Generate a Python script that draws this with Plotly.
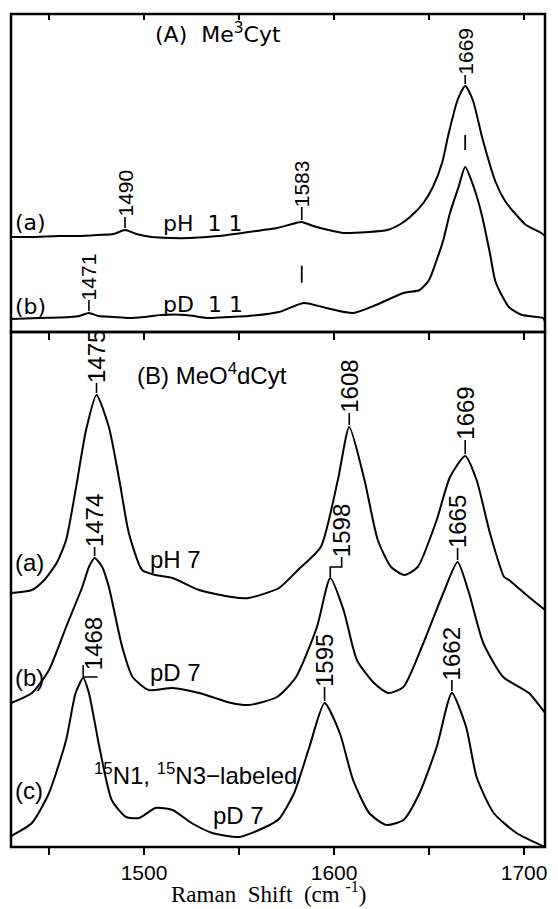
import numpy as np
import plotly.graph_objects as go

# ---------------- data (wavenumber, relative intensity) ----------------
# Panel A: Me3Cyt
top_a_x = [1430, 1441, 1455, 1466, 1476, 1484, 1490, 1496, 1504, 1514, 1524, 1539, 1555, 1570,
           1578, 1583, 1589, 1597, 1605, 1618, 1628, 1635, 1640, 1647, 1652, 1657, 1660, 1665,
           1669, 1673, 1678, 1685, 1690, 1695, 1701, 1709, 1711]
top_a_y = [95, 95, 96, 96, 97, 98, 102, 98, 95, 94, 94, 96, 100, 104,
           108, 110, 106, 102, 99, 100, 102, 108, 115, 129, 145, 170, 196, 232,
           246, 232, 194, 150, 131, 119, 107, 99, 96]

top_b_x = [1430, 1445, 1461, 1466, 1471, 1476, 1484, 1492, 1500, 1509, 1522, 1534, 1545, 1555,
           1571, 1584, 1596, 1610, 1622, 1636.5, 1645, 1650, 1654, 1657.5, 1661, 1665.5, 1669,
           1673.5, 1677.5, 1682, 1685, 1692, 1699, 1710, 1711]
top_b_y = [13, 14, 15, 16, 19, 16, 15, 14, 15, 17, 17, 14, 15, 16,
           20, 29, 24, 19, 27, 39, 42, 52, 72, 92, 119, 145, 165,
           145, 119, 79, 50, 25, 17, 14, 10]

# Panel B: MeO4dCyt
bot_a_x = [1430, 1441, 1447.5, 1454, 1459, 1464, 1469.5, 1475, 1481.5, 1487, 1492, 1499, 1506,
           1515, 1529, 1546, 1555, 1571, 1581, 1593, 1602, 1608, 1616, 1623, 1630, 1637, 1644,
           1654, 1661, 1669, 1675, 1682, 1689.5, 1692, 1702.5, 1711]
bot_a_y = [254, 257, 267, 284, 307, 357, 417, 452, 420, 367, 314, 277, 272,
           269, 257, 250, 249, 259, 277, 300, 367, 420, 367, 307, 280, 272, 280,
           327, 370, 391, 367, 314, 270, 267, 250, 237]

bot_b_x = [1430, 1441, 1450, 1459, 1467.5, 1471, 1474, 1478, 1481.5, 1488.5, 1494, 1502.5, 1515,
           1529, 1546, 1555, 1570, 1580, 1591, 1598, 1605, 1612, 1621, 1628.5, 1636.5, 1647,
           1657.5, 1665, 1671, 1678.5, 1689, 1702.5, 1711]
bot_b_y = [144, 154, 177, 220, 260, 280, 289, 280, 260, 200, 170, 157, 159,
           154, 144, 142, 150, 170, 220, 269, 237, 187, 164, 154, 160, 204,
           254, 285, 254, 204, 170, 154, 134]

bot_c_x = [1430, 1441, 1450, 1459, 1464, 1468, 1471, 1476.5, 1483, 1490.5, 1497.5, 1506, 1515,
           1525, 1536, 1550, 1564, 1571, 1579, 1587, 1595, 1603, 1610, 1618.5, 1627.5, 1636.5,
           1645, 1654, 1662, 1669.5, 1675, 1684, 1696, 1711]
bot_c_y = [11, 24, 54, 107, 154, 169, 154, 100, 47, 30, 29, 39, 37,
           24, 14, 10, 20, 28, 54, 100, 144, 114, 67, 34, 22, 27,
           54, 100, 154, 120, 70, 34, 14, 0]

x_ticks = [1450, 1500, 1550, 1600, 1650, 1700]
x_ticktext = [" ", "1500", " ", "1600", " ", "1700"]
x_range = [1430, 1711]
top_range = [0, 318]
bot_range = [0, 515]

# ---------------- figure ----------------
W, H = 558, 909
ML, MR, MT, MB = 11, 11, 14, 62
split = 515 / 833.0

SANS = "Liberation Sans, Arial, Helvetica, sans-serif"
WIDE = "DejaVu Sans, Verdana, sans-serif"
SERIF = "Liberation Serif, Times New Roman, serif"

fig = go.Figure()
ln = dict(color="black", width=2, shape="spline", smoothing=0.6)
for xs, ys, xa, ya in [(top_a_x, top_a_y, "x2", "y2"), (top_b_x, top_b_y, "x2", "y2"),
                       (bot_a_x, bot_a_y, "x", "y"), (bot_b_x, bot_b_y, "x", "y"),
                       (bot_c_x, bot_c_y, "x", "y")]:
    fig.add_trace(go.Scatter(x=xs, y=ys, xaxis=xa, yaxis=ya, mode="lines", line=ln,
                             hoverinfo="skip", showlegend=False))
# empty trace so the inner top tick axis of panel B is drawn
fig.add_trace(go.Scatter(x=[], y=[], xaxis="x3", yaxis="y", showlegend=False))

shapes = []
annotations = []


def txt(text, x, y, xa, ya, size, family=SANS, xanchor="center", yanchor="middle"):
    annotations.append(dict(text=text, x=x, y=y, xref=xa, yref=ya, showarrow=False,
                            xanchor=xanchor, yanchor=yanchor,
                            font=dict(family=family, size=size, color="black")))


def peak_label(text, pk, xs, ys, xa, ya, gap, size, dx=0.0, tick=True):
    pv = float(np.interp(pk, xs, ys))
    if tick:
        shapes.append(dict(type="line", xref=xa, yref=ya, x0=pk, x1=pk, ysizemode="pixel",
                           yanchor=pv, y0=2, y1=gap, line=dict(color="black", width=1.6)))
    annotations.append(dict(text=text, x=pk + dx, y=pv, xref=xa, yref=ya, showarrow=False,
                            textangle=-90, xanchor="center", yanchor="bottom", yshift=gap - 1,
                            borderpad=0,
                            font=dict(family=SANS, size=size, color="black")))
    return pv


def marker(pk, xs, ys, xa, ya, a, b):
    pv = float(np.interp(pk, xs, ys))
    shapes.append(dict(type="line", xref=xa, yref=ya, x0=pk, x1=pk, ysizemode="pixel",
                       yanchor=pv, y0=a, y1=b, line=dict(color="black", width=1.8)))


# Panel A texts
txt("(A)  Me<sup>3</sup>Cyt", 1539, 299, "x2", "y2", 22, WIDE)
txt("(a)", 1431, 110, "x2", "y2", 22, WIDE, xanchor="left")
txt("pH  1 1", 1531, 109, "x2", "y2", 22, WIDE)
txt("(b)", 1431, 26, "x2", "y2", 22, WIDE, xanchor="left")
txt("pD  1 1", 1531, 28, "x2", "y2", 22, WIDE)
peak_label("1490", 1490, top_a_x, top_a_y, "x2", "y2", 13, 21)
peak_label("1583", 1583, top_a_x, top_a_y, "x2", "y2", 15, 21)
peak_label("1669", 1669, top_a_x, top_a_y, "x2", "y2", 11, 21)
peak_label("1471", 1471, top_b_x, top_b_y, "x2", "y2", 13, 21)
marker(1583, top_b_x, top_b_y, "x2", "y2", 21, 38)
marker(1669, top_b_x, top_b_y, "x2", "y2", 17, 32)

# Panel B texts
txt("(B) MeO<sup>4</sup>dCyt", 1535.7, 473, "x", "y", 24)
txt("(a)", 1431, 285, "x", "y", 24, xanchor="left")
txt("pH 7", 1516.3, 288, "x", "y", 24)
txt("(b)", 1431, 170, "x", "y", 24, xanchor="left")
txt("pD 7", 1516.3, 175, "x", "y", 24)
txt("(c)", 1431, 57, "x", "y", 24, xanchor="left")
txt("<sup>15</sup>N1, <sup>15</sup>N3\u2212labeled", 1527.3, 73, "x", "y", 24)
txt("pD 7", 1549.9, 32, "x", "y", 24)

peak_label("1475", 1475, bot_a_x, bot_a_y, "x", "y", 12, 24)
peak_label("1608", 1608, bot_a_x, bot_a_y, "x", "y", 14, 24)
peak_label("1669", 1669, bot_a_x, bot_a_y, "x", "y", 16, 24)
peak_label("1474", 1474, bot_b_x, bot_b_y, "x", "y", 11, 24)
peak_label("1665", 1665, bot_b_x, bot_b_y, "x", "y", 14, 24)
peak_label("1595", 1595, bot_c_x, bot_c_y, "x", "y", 16, 24)
peak_label("1662", 1662, bot_c_x, bot_c_y, "x", "y", 13, 24)

# bent connectors (1598 and 1468)
pv = peak_label("1598", 1598, bot_b_x, bot_b_y, "x", "y", 21, 24, dx=6.0, tick=False)
fig.add_trace(go.Scatter(x=[1598, 1598, 1604, 1604], y=[pv + 1, pv + 11, pv + 11, pv + 21],
                         mode="lines", line=dict(color="black", width=1.6),
                         hoverinfo="skip", showlegend=False))
pv = peak_label("1468", 1468, bot_c_x, bot_c_y, "x", "y", 8, 24, dx=5.5, tick=False)
fig.add_trace(go.Scatter(x=[1468, 1468, 1475.5], y=[pv + 13, pv + 1, pv + 1],
                         mode="lines", line=dict(color="black", width=1.6),
                         hoverinfo="skip", showlegend=False))

# x title
annotations.append(dict(text="Raman  Shift  (cm <sup>-1</sup>)", xref="paper", yref="paper",
                        x=(269 - ML) / 536.0, y=-61 / 833.0, showarrow=False,
                        xanchor="center", yanchor="bottom", borderpad=0,
                        font=dict(family=SERIF, size=23, color="black")))

# panel frames
for y0, y1 in [(0, split), (split, 1)]:
    shapes.append(dict(type="rect", xref="paper", yref="paper", x0=0, x1=1, y0=y0, y1=y1,
                       line=dict(color="black", width=2.5), layer="above"))

common_x = dict(range=x_range, tickvals=x_ticks, showgrid=False, zeroline=False, showline=False,
                tickcolor="black", tickwidth=2)
fig.update_layout(
    width=W, height=H, autosize=False,
    margin=dict(l=ML, r=MR, t=MT, b=MB),
    paper_bgcolor="white", plot_bgcolor="white",
    showlegend=False,
    xaxis=dict(common_x, domain=[0, 1], anchor="y", ticks="outside", ticklen=7,
               ticktext=x_ticktext, ticklabelstandoff=0,
               tickfont=dict(family=SANS, size=21, color="black")),
    xaxis2=dict(common_x, domain=[0, 1], anchor="y2", side="top", ticks="inside", ticklen=6,
                showticklabels=False),
    xaxis3=dict(common_x, overlaying="x", anchor="y", side="top", ticks="inside", ticklen=8,
                showticklabels=False),
    yaxis=dict(domain=[0, split], range=bot_range, visible=False, fixedrange=True),
    yaxis2=dict(domain=[split, 1], range=top_range, visible=False, fixedrange=True),
    shapes=shapes,
    annotations=annotations,
)

fig.write_html("out.html")
